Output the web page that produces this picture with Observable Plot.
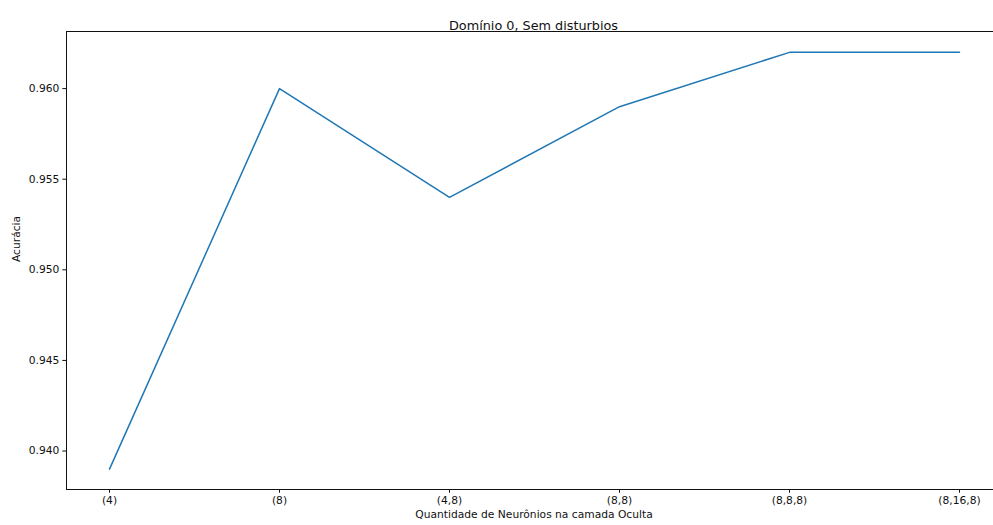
<!DOCTYPE html>
<html>
<head>
<meta charset="utf-8">
<script src="https://cdn.jsdelivr.net/npm/d3@7"></script>
<script src="https://cdn.jsdelivr.net/npm/@observablehq/plot@0.6"></script>
<style>
  html, body { margin: 0; padding: 0; background: white; }
</style>
</head>
<body>
<div id="chart"></div>
<script>
const categories = ["(4)", "(8)", "(4,8)", "(8,8)", "(8,8,8)", "(8,16,8)"];
const accuracy = [0.939, 0.960, 0.954, 0.959, 0.962, 0.962];
const yTicks = [0.940, 0.945, 0.950, 0.955, 0.960];
const titleText = "Domínio 0, Sem disturbios";
const xLabel = "Quantidade de Neurônios na camada Oculta";
const yLabel = "Acurácia";

const data = categories.map((c, i) => ({cat: c, acc: accuracy[i]}));

const chart = Plot.plot({
  width: 993,
  height: 525,
  marginTop: 31,
  marginLeft: 66,
  marginRight: 0,
  marginBottom: 36,
  style: {fontFamily: "'DejaVu Sans', sans-serif", fontSize: "10.7px", color: "#111", background: "white"},
  x: {type: "point", domain: categories, range: [108.2, 960.4], padding: 0},
  y: {domain: [0.93785, 0.96315], range: [489.5, 31]},
  marks: [
    Plot.frame({anchor: "top", stroke: "#111", strokeWidth: 1}),
    Plot.frame({anchor: "left", stroke: "#111", strokeWidth: 1}),
    Plot.frame({anchor: "bottom", stroke: "#111", strokeWidth: 1}),
    Plot.axisX({tickSize: 3.7, tickPadding: 3.5, label: null, fontSize: 10.7}),
    Plot.axisY({ticks: yTicks, tickSize: 3.7, tickPadding: 3.5, label: null, fontSize: 10.7, tickFormat: d3.format(".3f")}),
    Plot.line(data, {x: "cat", y: "acc", stroke: "#1f77b4", strokeWidth: 1.5}),
    Plot.text([titleText], {frameAnchor: "top", dx: 3.5, dy: -10.5, fontSize: 12.8, fill: "#111"}),
    Plot.text([xLabel], {frameAnchor: "bottom", dx: 4, dy: 28, fontSize: 10.7, fill: "#111"}),
    Plot.text([yLabel], {frameAnchor: "left", dx: -50, dy: 1.5, rotate: -90, fontSize: 10.7, fill: "#111"})
  ]
});
document.getElementById("chart").appendChild(chart);
</script>
</body>
</html>
